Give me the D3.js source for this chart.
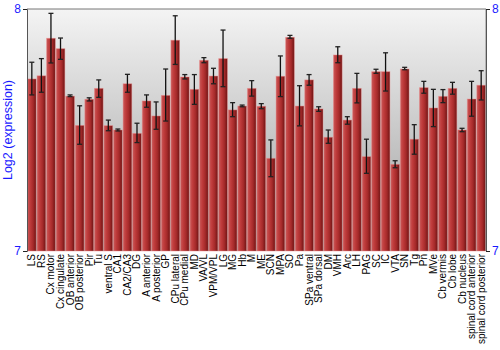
<!DOCTYPE html>
<html><head><meta charset="utf-8">
<script src="https://cdn.jsdelivr.net/npm/d3@7"></script>
<style>body{margin:0;background:#fff}svg{display:block;font-family:"Liberation Sans",Arial,sans-serif}</style>
</head><body><svg id="c" width="500" height="350"></svg>
<script>
const categories = ["LS","RS","Cx motor","Cx cingulate","OB anterior","OB posterior","Pir","Tu","ventral S","CA1","CA2/CA3","DG","A anterior","A posterior","GP","CPu lateral","CPu medial","MD","VA/VL","VPM/VPL","LG","MG","Hb","M","ME","SCN","MPA","SO","Pa","SPa ventral","SPa dorsal","DM","VMH","Arc","LH","PAG","SC","IC","VTA","SN","Tg","Pn","MVe","Cb vermis","Cb lobe","Cb nucleus","spinal cord anterior","spinal cord posterior"];
const values = [7.711,7.724,7.879,7.836,7.640,7.519,7.627,7.672,7.518,7.500,7.691,7.486,7.620,7.558,7.643,7.871,7.719,7.668,7.788,7.723,7.795,7.583,7.599,7.672,7.598,7.383,7.722,7.883,7.599,7.707,7.587,7.470,7.810,7.541,7.672,7.390,7.741,7.741,7.358,7.752,7.462,7.675,7.591,7.639,7.672,7.500,7.628,7.685];
const errLow = [7.645,7.656,7.777,7.792,7.638,7.441,7.620,7.635,7.497,7.496,7.656,7.448,7.594,7.503,7.537,7.771,7.711,7.606,7.778,7.691,7.679,7.555,7.596,7.640,7.588,7.307,7.638,7.879,7.517,7.685,7.577,7.445,7.778,7.524,7.612,7.321,7.734,7.661,7.344,7.749,7.400,7.652,7.514,7.613,7.648,7.493,7.557,7.624];
const errHigh = [7.780,7.795,7.982,7.880,7.645,7.600,7.633,7.707,7.541,7.504,7.730,7.528,7.645,7.616,7.752,7.972,7.729,7.729,7.799,7.755,7.913,7.613,7.603,7.704,7.609,7.459,7.806,7.891,7.683,7.729,7.596,7.500,7.844,7.555,7.734,7.462,7.751,7.819,7.373,7.759,7.522,7.701,7.668,7.667,7.697,7.507,7.701,7.745];
const yTicks = [7, 8];
const yTitle = "Log2 (expression)";

const svg = d3.select("#c");
const L = 27, R = 486, T = 9, B = 251;
const x = d3.scaleBand().domain(categories).range([L, R]).paddingInner(0.09).paddingOuter(0.05);
const y = d3.scaleLinear().domain([7, 8]).range([B, T]);

const defs = svg.append("defs");
const bg = defs.append("linearGradient").attr("id","bg").attr("x1",0).attr("y1",0).attr("x2",0).attr("y2",1);
bg.append("stop").attr("offset","0%").attr("stop-color","#f4f4f4");
bg.append("stop").attr("offset","100%").attr("stop-color","#9e9e9e");
const bar = defs.append("linearGradient").attr("id","bar").attr("x1",0).attr("y1",0).attr("x2",1).attr("y2",0);
bar.append("stop").attr("offset","0%").attr("stop-color","#c85a5a");
bar.append("stop").attr("offset","30%").attr("stop-color","#c03c3c");
bar.append("stop").attr("offset","65%").attr("stop-color","#a52a2a");
bar.append("stop").attr("offset","100%").attr("stop-color","#6e1414");

svg.append("rect").attr("x",L).attr("y",T).attr("width",R-L).attr("height",B-T).attr("fill","url(#bg)");

const g = svg.append("g");
g.selectAll("rect.b").data(categories).join("rect").attr("class","b")
  .attr("x", d => x(d)).attr("width", x.bandwidth())
  .attr("y", (d,i) => y(values[i])).attr("height", (d,i) => y(7) - y(values[i]))
  .attr("fill","url(#bar)").attr("stroke","rgba(235,140,140,0.55)").attr("stroke-width",0.8);

const eb = g.selectAll("g.e").data(categories).join("g").attr("class","e");
eb.append("line").attr("x1", d => x(d)+x.bandwidth()/2).attr("x2", d => x(d)+x.bandwidth()/2)
  .attr("y1",(d,i)=>y(errLow[i])).attr("y2",(d,i)=>y(errHigh[i])).attr("stroke","#111").attr("stroke-width",1.3);
[errLow, errHigh].forEach(arr => {
  eb.append("line").attr("x1", d => x(d)+x.bandwidth()/2-2.5).attr("x2", d => x(d)+x.bandwidth()/2+2.5)
    .attr("y1",(d,i)=>y(arr[i])).attr("y2",(d,i)=>y(arr[i])).attr("stroke","#222").attr("stroke-width",1.3);
});

// frame
svg.append("line").attr("x1",L).attr("x2",R).attr("y1",T).attr("y2",T).attr("stroke","#777").attr("stroke-width",1);
svg.append("line").attr("x1",R).attr("x2",R).attr("y1",T).attr("y2",B).attr("stroke","#888").attr("stroke-width",1);

const yl = svg.append("g").attr("transform",`translate(${L},0)`).call(d3.axisLeft(y).tickValues(yTicks).tickFormat(d3.format("d")).tickSize(4).tickPadding(2));
const yr = svg.append("g").attr("transform",`translate(${R},0)`).call(d3.axisRight(y).tickValues(yTicks).tickFormat(d3.format("d")).tickSize(4).tickPadding(2));
[yl, yr].forEach(a => {
  a.select(".domain").attr("stroke","#555");
  a.selectAll(".tick line").attr("stroke","#222");
  a.selectAll("text").attr("fill","#1a1aff").style("font-size","12px").style("font-family","Liberation Sans, Arial, sans-serif");
});

const xa = svg.append("g").attr("transform",`translate(0,${B})`).call(d3.axisBottom(x).tickSize(0).tickPadding(3));
xa.select(".domain").remove();
xa.selectAll("text").attr("transform","rotate(-90)").attr("x",-3).attr("y",0).attr("dy","0.35em")
  .style("text-anchor","end").style("font-size","10px").style("font-family","Liberation Sans, Arial, sans-serif").attr("fill","#000");

svg.append("text").attr("transform",`translate(12,${(T+B)/2}) rotate(-90)`).attr("text-anchor","middle")
  .attr("fill","#1a1aff").style("font-size","12.5px").text(yTitle);
</script></body></html>
